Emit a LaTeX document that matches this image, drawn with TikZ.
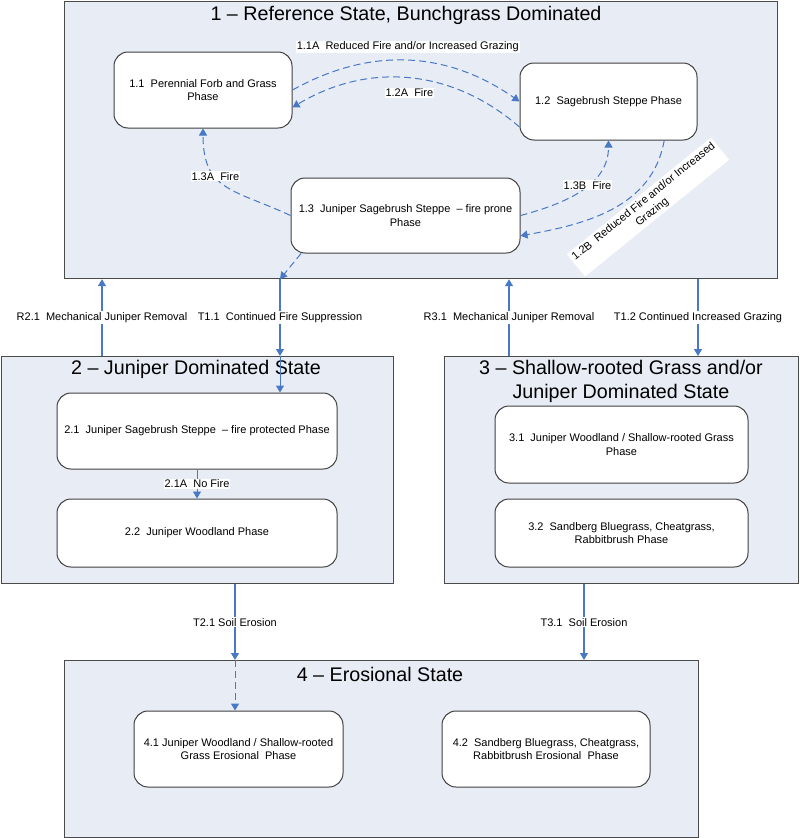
\documentclass[tikz,border=0pt]{standalone}
\usepackage{fontspec}
\setmainfont{Liberation Sans}
\usetikzlibrary{arrows.meta}
\definecolor{stateback}{RGB}{232,236,245}
\definecolor{stateline}{RGB}{75,75,75}
\definecolor{arrowblue}{RGB}{72,120,198}

\begin{document}
\begin{tikzpicture}[x=1pt, y=1pt,
  state/.style = {draw=stateline, line width=1.2pt, fill=stateback, inner sep=0pt, anchor=north west},
  phase/.style = {draw=black!75, line width=1pt, fill=white, rounded corners=14pt, align=center, inner sep=0pt, font=\fontsize{11}{13.5}\selectfont},
  title/.style = {align=center, font=\fontsize{19.7}{24}\selectfont},
  lbl/.style = {fill=white, inner sep=1pt, align=center, font=\fontsize{11}{13.5}\selectfont},
  trans/.style = {-{Triangle[length=7pt,width=8pt]}, draw=arrowblue, line width=1.3pt},
  pathway/.style = {-{Triangle[length=7pt,width=8pt]}, draw=arrowblue, line width=1pt, dash pattern=on 7pt off 4pt}]
\useasboundingbox (0,0) rectangle (800,-838);
\node[state, minimum width=713pt, minimum height=277pt] (s1) at (64,-1) {};
\node[state, minimum width=392pt, minimum height=227pt] (s2) at (1,-356) {};
\node[state, minimum width=354pt, minimum height=227pt] (s3) at (444,-356) {};
\node[state, minimum width=634pt, minimum height=177pt] (s4) at (64,-660) {};
\node[title] (t1) at (406,-15) {1 -- Reference State, Bunchgrass Dominated};
\node[title] (t2) at (196,-369) {2 -- Juniper Dominated State};
\node[title] (t3) at (621,-381) {3 -- Shallow-rooted Grass and/or\\Juniper Dominated State};
\node[title] (t4) at (380,-674) {4 -- Erosional State};
\coordinate (r21) at (102,0);
\coordinate (t11) at (280,0);
\coordinate (r31) at (509,0);
\coordinate (t12) at (698,0);
\coordinate (t21) at (235,0);
\coordinate (t31) at (584,0);
\node[phase, minimum width=178pt, minimum height=76pt] (p11) at (203,-90) {1.1~ Perennial Forb and Grass\\Phase};
\node[phase, minimum width=177pt, minimum height=77pt] (p12) at (608.5,-101.5) {1.2~ Sagebrush Steppe Phase};
\node[phase, minimum width=229pt, minimum height=75pt] (p13) at (405.5,-215.5) {1.3~ Juniper Sagebrush Steppe~ -- fire prone\\Phase};
\node[phase, minimum width=280pt, minimum height=76pt] (p21) at (197,-431) {2.1~ Juniper Sagebrush Steppe~ -- fire protected Phase};
\node[phase, minimum width=280pt, minimum height=68pt] (p22) at (197,-533) {2.2~ Juniper Woodland Phase};
\node[phase, minimum width=253pt, minimum height=77pt] (p31) at (621.5,-444.5) {3.1~ Juniper Woodland / Shallow-rooted Grass\\Phase};
\node[phase, minimum width=253pt, minimum height=68pt] (p32) at (621.5,-533) {3.2~ Sandberg Bluegrass, Cheatgrass,\\Rabbitbrush Phase};
\node[phase, minimum width=209pt, minimum height=76pt] (p41) at (238.5,-749) {4.1 Juniper Woodland / Shallow-rooted\\Grass Erosional~ Phase};
\node[phase, minimum width=208pt, minimum height=76pt] (p42) at (546,-749) {4.2~ Sandberg Bluegrass, Cheatgrass,\\Rabbitbrush Erosional~ Phase};
\draw [pathway] (p11.east) to[bend left=32] node[lbl, above=7pt, pos=.5]{1.1A~ Reduced Fire and/or Increased Grazing} (p12.west);
\draw [pathway] (p12.196) to[bend right=36] node[lbl, below=9pt, pos=.5]{1.2A~ Fire} (p11.-11);
\draw [pathway] (p13.west) to[out=155, in=-90, looseness=1.3] node[lbl, pos=.63]{1.3A~ Fire} (p11.south);
\draw [pathway] (p13.east) to[out=15, in=-90] node[lbl, pos=.57]{1.3B~ Fire} (p12.south);
\draw [pathway] (p12.-35) to[out=-100, in=10] (p13.-10);
\node[lbl, inner sep=2.5pt, rotate=39] (l12b) at (648,-207) {1.2B~ Reduced Fire and/or Increased\\Grazing};
\draw [pathway] (p13.200) -- (s1.south -| t11);
\draw [trans] (s2.north -| r21) -- (s1.south -| r21) node[lbl, pos=.5]{R2.1~ Mechanical Juniper Removal};
\draw [trans] (s1.south -| t11) -- (s2.north -| t11) node[lbl, pos=.5]{T1.1~ Continued Fire Suppression};
\draw [trans] (s3.north -| r31) -- (s1.south -| r31) node[lbl, pos=.5]{R3.1~ Mechanical Juniper Removal};
\draw [trans] (s1.south -| t12) -- (s3.north -| t12) node[lbl, pos=.5]{T1.2 Continued Increased Grazing};
\draw [trans, line width=1pt] (s2.north -| t11) -- (p21.north -| t11);
\draw [trans, line width=.8pt] (p21) -- (p22) node[lbl, pos=.5]{2.1A~ No Fire};
\draw [trans] (s2.south -| t21) -- (s4.north -| t21) node[lbl, pos=.5]{T2.1 Soil Erosion};
\draw [trans] (s3.south -| t31) -- (s4.north -| t31) node[lbl, pos=.5]{T3.1~ Soil Erosion};
\draw [pathway] (s4.north -| t21) -- (p41.north -| t21);
\end{tikzpicture}
\end{document}
